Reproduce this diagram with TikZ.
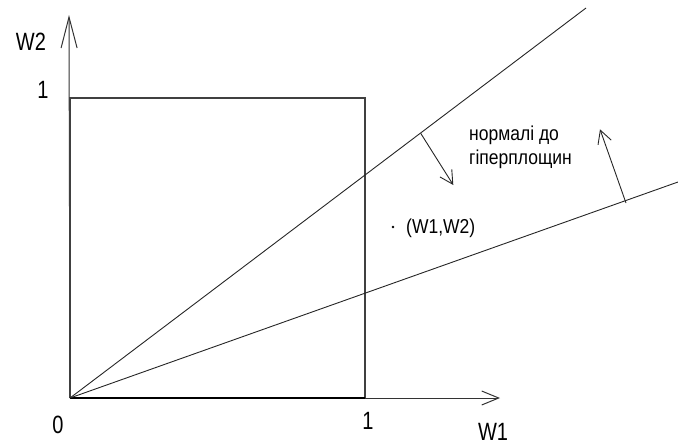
\documentclass[tikz,border=0pt]{standalone}
\usepackage{fontspec}
\setmainfont{Liberation Sans}
\usetikzlibrary{arrows.meta}
\tikzset{
  axis/.style={line width=1pt, draw=black!80},
  boxline/.style={line width=1.6pt, draw=black!75},
  hyper/.style={line width=0.9pt, draw=black!85},
  normalarrow/.style={line width=0.9pt, draw=black!85, -{Straight Barb[length=13pt,width=14pt,line width=0.9pt]}},
  axlabel/.style={inner sep=0pt, font=\fontsize{20}{22}\selectfont, yscale=1.25, transform shape},
  txt/.style={inner sep=0pt, anchor=west, font=\fontsize{17.5}{20}\selectfont, yscale=1.15, transform shape}
}
\begin{document}
\begin{tikzpicture}[x=1pt,y=-1pt]
\useasboundingbox (0,0) rectangle (678,445);
\coordinate (O) at (70,398);
\coordinate (Ytip) at (69,15);
\coordinate (Xtip) at (500,398);
\coordinate (B1) at (70,98);
\coordinate (B2) at (365,98);
\coordinate (B3) at (365,398);
\coordinate (L1end) at (586,8);
\coordinate (L2end) at (678,182);
\coordinate (N1s) at (420.7,133.3);
\coordinate (N1e) at (453.3,185);
\coordinate (N2s) at (626,203);
\coordinate (N2e) at (600,129.3);
% axes
\draw[axis, -{Straight Barb[length=31pt,width=16pt,line width=1pt]}] (O) -- (Ytip);
\draw[axis, -{Straight Barb[length=17pt,width=14pt,line width=1pt]}] (O) -- (Xtip);
% unit square
\draw[boxline] (O) -- (B1) -- (B2) -- (B3);
\draw[line width=2pt, draw=black] (O) -- (B3);
% hyperplanes
\draw[hyper] (O) -- (L1end);
\draw[hyper] (O) -- (L2end);
% normals
\draw[normalarrow] (N1s) -- (N1e);
\draw[normalarrow] (N2s) -- (N2e);
% point
\fill[black] (393,227) circle (1.3pt) coordinate (P);
% labels
\node[axlabel] (w2) at (31,42) {W2};
\node[axlabel] (one2) at (43,90) {1};
\node[axlabel] (zero) at (58,425) {0};
\node[axlabel] (one1) at (368,421) {1};
\node[axlabel] (w1) at (493,432) {W1};
\node[txt] (norm1) at (469,135) {нормалі до};
\node[txt] (norm2) at (469,159) {гіперплощин};
\node[txt] (pt) at (406,228) {(W1,W2)};
\end{tikzpicture}
\end{document}
